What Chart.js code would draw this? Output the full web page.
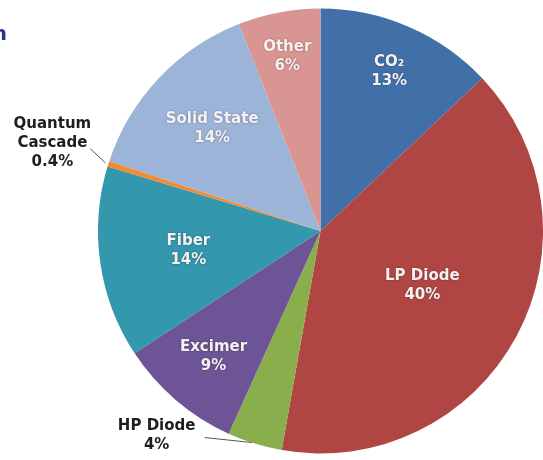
<!DOCTYPE html>
<html>
<head>
<meta charset="utf-8">
<script src="https://cdn.jsdelivr.net/npm/chart.js@4.4.1/dist/chart.umd.min.js"></script>
<style>
  html, body { margin: 0; padding: 0; background: #ffffff; }
  #wrap { position: relative; width: 543px; height: 460px; }
</style>
</head>
<body>
<div id="wrap"><canvas id="pieChart"></canvas></div>
<script>
// --- Dados do gráfico ---
const categories = ['CO₂', 'LP Diode', 'HP Diode', 'Excimer', 'Fiber', 'Quantum\nCascade', 'Solid State', 'Other'];
const shares = [13, 40, 4, 9, 14, 0.4, 14, 6];
const shareLabels = ['13%', '40%', '4%', '9%', '14%', '0.4%', '14%', '6%'];

const sliceColors = ['#4170a9', '#b04644', '#8bae4c', '#6c5496', '#3397ae', '#f28a32', '#9db4d9', '#d99592'];

// posição dos rótulos: dentro (fração do raio) ou fora (deslocamento a partir da borda)
const labelPlacement = [
    { inside: true, r: 0.78 },
    { inside: true, r: 0.52 },
    { inside: false, dx: -98, dy: -8, lineFrom: [-50, -6] },
    { inside: true, r: 0.74 },
    { inside: true, r: 0.60 },
    { inside: false, dx: -56, dy: -21, lineFrom: [-18, -15] },
    { inside: true, r: 0.67 },
    { inside: true, r: 0.80 }
];

const sliceLabels = {
    id: 'sliceLabels',
    afterDatasetsDraw(chart) {
        const ctx = chart.ctx;
        const arcs = chart.getDatasetMeta(0).data;
        ctx.save();
        ctx.font = 'bold 15px "DejaVu Sans", Verdana, sans-serif';
        ctx.textAlign = 'center';
        ctx.textBaseline = 'middle';
        arcs.forEach((arc, i) => {
            const p = labelPlacement[i];
            const mid = (arc.startAngle + arc.endAngle) / 2;
            const lines = categories[i].split('\n').concat(shareLabels[i]);
            const lh = 19;
            let cx, cy;
            if (p.inside) {
                cx = arc.x + Math.cos(mid) * arc.outerRadius * p.r;
                cy = arc.y + Math.sin(mid) * arc.outerRadius * p.r;
                ctx.fillStyle = '#f6f2f2';
                ctx.shadowColor = 'rgba(0,0,0,0.4)';
                ctx.shadowBlur = 2;
            } else {
                const ex = arc.x + Math.cos(mid) * arc.outerRadius;
                const ey = arc.y + Math.sin(mid) * arc.outerRadius;
                cx = ex + p.dx;
                cy = ey + p.dy;
                ctx.shadowBlur = 0;
                ctx.strokeStyle = '#555555';
                ctx.lineWidth = 1;
                ctx.beginPath();
                ctx.moveTo(ex + p.lineFrom[0], ey + p.lineFrom[1]);
                ctx.lineTo(ex - 3, ey - 1);
                ctx.stroke();
                ctx.fillStyle = '#1e1e1e';
            }
            const top = cy - (lines.length - 1) * lh / 2;
            lines.forEach((t, k) => ctx.fillText(t, cx, top + k * lh));
        });
        // fragmento de texto cortado no canto superior esquerdo
        ctx.shadowBlur = 0;
        ctx.fillStyle = '#2b3590';
        ctx.font = 'bold 20px "DejaVu Sans", sans-serif';
        ctx.textAlign = 'right';
        ctx.fillText('n', 7, 35);
        ctx.restore();
    }
};

new Chart(document.getElementById('pieChart'), {
    type: 'pie',
    data: {
        labels: categories,
        datasets: [{
            data: shares,
            backgroundColor: sliceColors,
            borderWidth: 0
        }]
    },
    options: {
        responsive: true,
        maintainAspectRatio: false,
        animation: false,
        layout: { padding: { left: 98, top: 7, bottom: 5, right: 0 } },
        plugins: {
            legend: { display: false },
            tooltip: { enabled: false }
        }
    },
    plugins: [sliceLabels]
});
</script>
</body>
</html>
